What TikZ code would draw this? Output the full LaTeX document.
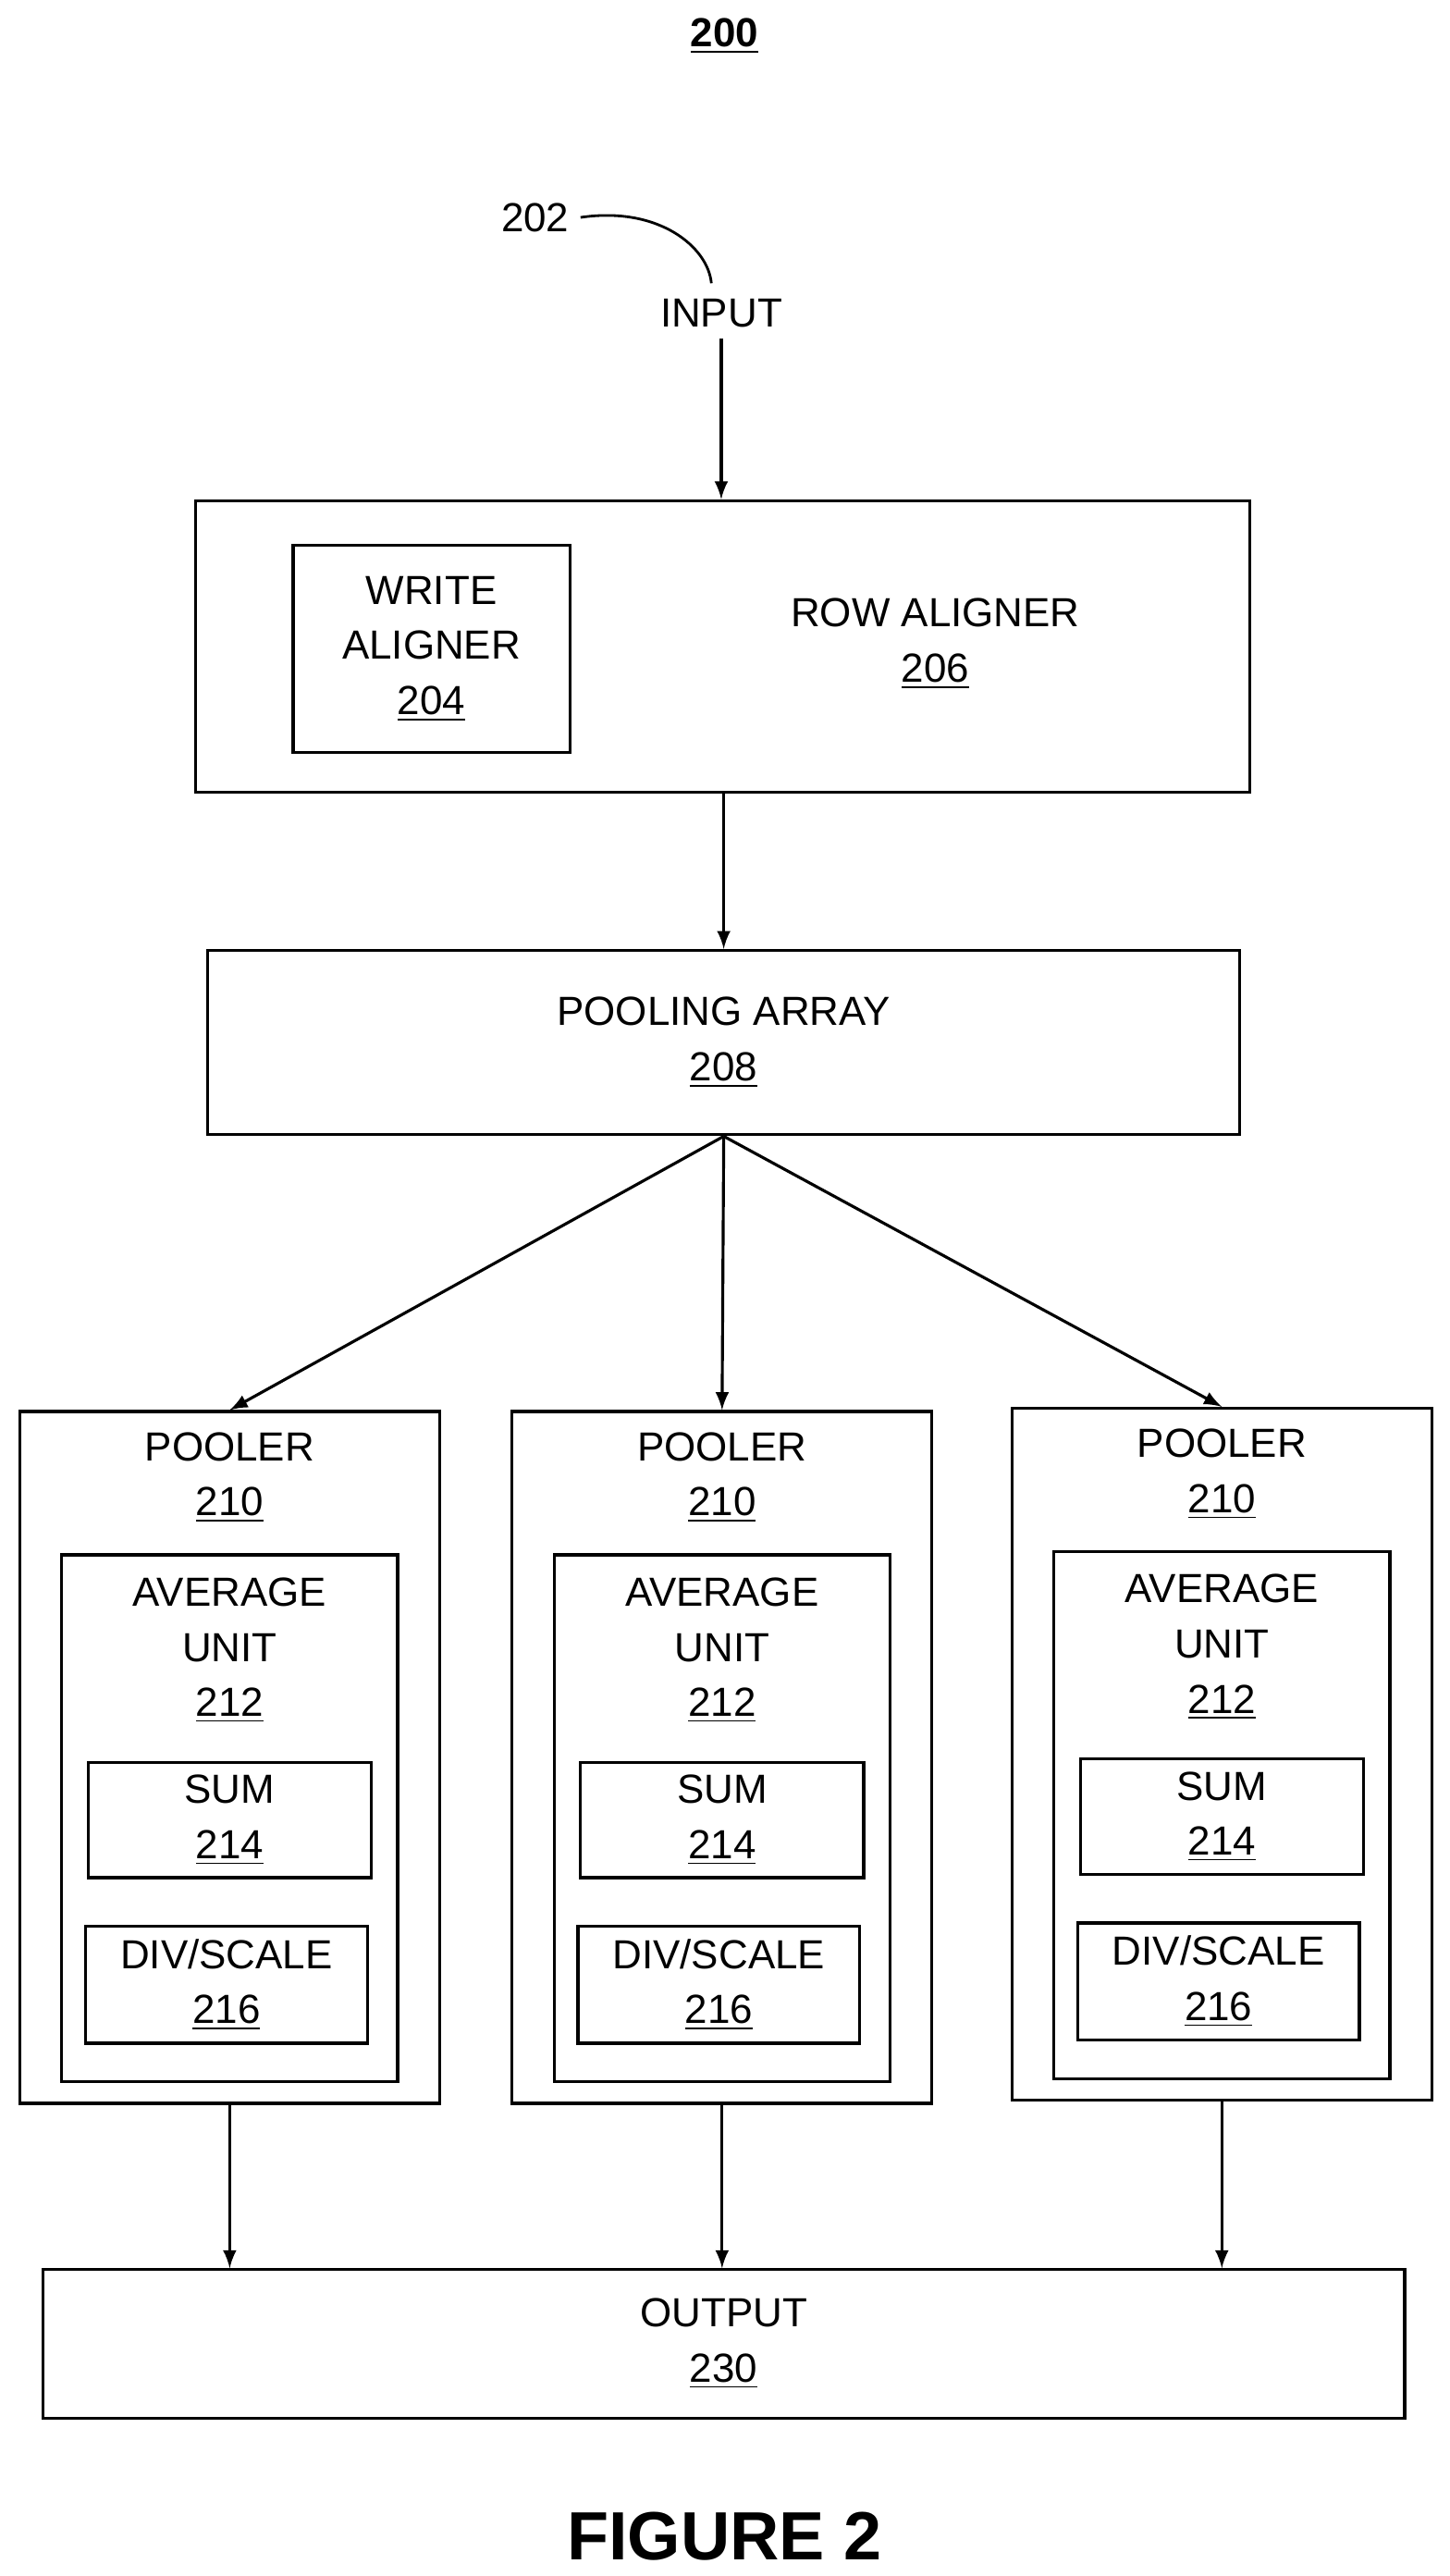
\documentclass[tikz,border=0pt]{standalone}
\usepackage{fontspec}
\setmainfont{Liberation Sans}
\usetikzlibrary{positioning}

\begin{document}
\begin{tikzpicture}[x=0.0178cm, y=-0.0178cm,
    every node/.style={font=\fontsize{12.5}{17}\selectfont, align=center},
    box/.style={draw, line width=0.9pt, inner sep=0pt},
    arr/.style={-latex, line width=0.9pt}]
    \useasboundingbox (0,0) rectangle (880,1564);
    \node at (440,22) {\textbf{\underline{200}}};
    \node (lbl) at (325,132) {202};
    \node (in) at (438,190) {INPUT};
    \draw[line width=0.8pt] (lbl.east) .. controls (400,125) and (430,150) .. (432,172);
    % aligners
    \node[box, minimum width=640*0.0178cm, minimum height=177*0.0178cm] (row) at (439,392.5) {};
    \node[box, minimum width=168*0.0178cm, minimum height=126*0.0178cm] (wa) at (262,394) {WRITE\\ALIGNER\\\underline{204}};
    \node at (568,391) {ROW ALIGNER\\\underline{206}};
    \node[box, minimum width=627*0.0178cm, minimum height=112*0.0178cm] (pool) at (439.5,633) {POOLING ARRAY\\\underline{208}};
    \draw[arr] (in) -- (in |- row.north);
    \draw[arr] (row.south -| pool) -- (pool.north);
    \node[box, minimum width=827*0.0178cm, minimum height=90*0.0178cm] (out) at (439.5,1423) {OUTPUT\\\underline{230}};
    % poolers
    \foreach \i/\x/\y in {1/139.5/0, 2/438.5/0, 3/742/-2} {
        \node[box, minimum width=255*0.0178cm, minimum height=420*0.0178cm] (p\i) at (\x,1067+\y) {};
        \node at (\x,897+\y) {POOLER\\\underline{210}};
        \node[box, minimum width=204*0.0178cm, minimum height=320*0.0178cm] (avg\i) at (\x,1104+\y) {};
        \node at (\x,1002+\y) {AVERAGE\\UNIT\\\underline{212}};
        \node[box, minimum width=172*0.0178cm, minimum height=70*0.0178cm] (sum\i) at (\x,1105+\y) {SUM\\\underline{214}};
        \node[box, minimum width=171*0.0178cm, minimum height=71*0.0178cm] (div\i) at (\x-2,1205+\y) {DIV/SCALE\\\underline{216}};
        \draw[arr] (pool.south) -- (p\i.north);
        \draw[arr] (p\i.south) -- (p\i.south |- out.north);
    }
    \node[font=\fontsize{21}{25}\selectfont\bfseries] at (440,1540) {FIGURE 2};
\end{tikzpicture}
\end{document}
